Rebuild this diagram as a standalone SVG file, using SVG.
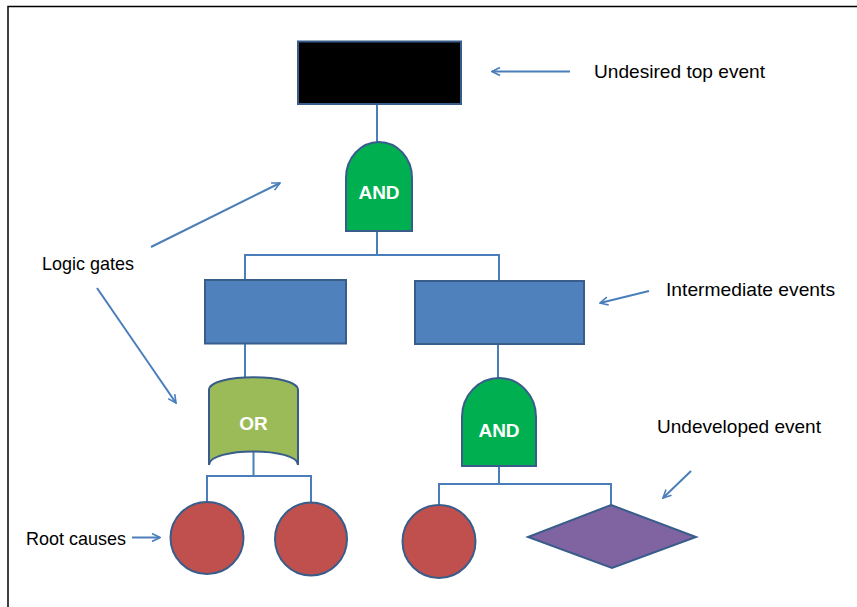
<svg xmlns="http://www.w3.org/2000/svg" width="857" height="607" viewBox="0 0 857 607">
  <style>
    .shape { stroke: #385d8a; stroke-width: 2; }
    .wire { fill: none; stroke: #4a7ebb; stroke-width: 2; }
    .callout { fill: none; stroke: #4a7ebb; stroke-width: 2; marker-end: url(#open-arrow); }
    .gate-label { font-family: "Liberation Sans", Arial, sans-serif; font-weight: bold; font-size: 19px; fill: #ffffff; text-anchor: middle; }
    .note { font-family: "Liberation Sans", Arial, sans-serif; font-size: 19px; fill: #000000; }
  </style>
  <defs>
    <marker id="open-arrow" viewBox="0 0 10 10" refX="9" refY="5" markerWidth="5" markerHeight="5" orient="auto" markerUnits="strokeWidth">
      <path d="M1,1 L9,5 L1,9" fill="none" stroke="#4a7ebb" stroke-width="1.6"/>
    </marker>
  </defs>

  <rect x="0" y="0" width="857" height="607" fill="#ffffff"/>
  <!-- page frame -->
  <path d="M8,607 L8,6.5 L857,6.5" fill="none" stroke="#000000" stroke-width="1.5"/>

  <!-- tree connectors -->
  <g id="connectors">
    <path class="wire" d="M377,104 L377,142"/>
    <path class="wire" d="M377,231 L377,255 M245,280 L245,255 L499,255 L499,281"/>
    <path class="wire" d="M245,344 L245,378"/>
    <path class="wire" d="M498,344 L498,378"/>
    <path class="wire" d="M253.5,452 L253.5,476 M207,502 L207,476 L311,476 L311,503"/>
    <path class="wire" d="M499,466 L499,484 M439,505 L439,484 L611,484 L611,505"/>
  </g>

  <!-- callout arrows -->
  <g id="callouts">
    <line class="callout" x1="570" y1="71.5" x2="492" y2="71.5"/>
    <line class="callout" x1="649" y1="291" x2="600" y2="303"/>
    <line class="callout" x1="151" y1="247" x2="280" y2="183"/>
    <line class="callout" x1="97" y1="288" x2="176" y2="403"/>
    <line class="callout" x1="691" y1="471" x2="663" y2="498"/>
    <line class="callout" x1="132" y1="537.5" x2="160" y2="537.5"/>
  </g>

  <g id="top-event">
    <rect class="shape" x="298" y="41.5" width="163" height="62.5" fill="#000000"/>
  </g>

  <g id="and-gate-top">
    <path class="shape" fill="#00b050" d="M346,231 L346,178 A33,36 0 0 1 412,178 L412,231 Z"/>
    <text class="gate-label" x="379" y="199">AND</text>
  </g>

  <g id="intermediate-left">
    <rect class="shape" x="205" y="280" width="141" height="63.5" fill="#4f81bd"/>
  </g>

  <g id="intermediate-right">
    <rect class="shape" x="415" y="281" width="169" height="63" fill="#4f81bd"/>
  </g>

  <g id="or-gate">
    <path class="shape" fill="#9bbb59" d="M209,390 C209,373 298,373 298,390 L298,465 C298,447 209,447 209,465 Z"/>
    <text class="gate-label" x="253.5" y="429.5">OR</text>
  </g>

  <g id="and-gate-right">
    <path class="shape" fill="#00b050" d="M462,466 L462,417 A37,39 0 0 1 536,417 L536,466 Z"/>
    <text class="gate-label" x="499" y="436.5">AND</text>
  </g>

  <g id="root-cause-1">
    <ellipse class="shape" cx="207" cy="538" rx="36.5" ry="36" fill="#c0504d"/>
  </g>
  <g id="root-cause-2">
    <ellipse class="shape" cx="311" cy="539" rx="36" ry="36.5" fill="#c0504d"/>
  </g>
  <g id="root-cause-3">
    <ellipse class="shape" cx="439" cy="541.5" rx="36.5" ry="36.5" fill="#c0504d"/>
  </g>

  <g id="undeveloped-event">
    <polygon class="shape" fill="#8064a2" points="611,505 696,537 612,568 528,537"/>
  </g>

  <g id="labels">
    <text class="note" x="594" y="78" textLength="171" lengthAdjust="spacingAndGlyphs">Undesired top event</text>
    <text class="note" x="666" y="296" textLength="169" lengthAdjust="spacingAndGlyphs">Intermediate events</text>
    <text class="note" x="42" y="269.5" textLength="92" lengthAdjust="spacingAndGlyphs">Logic gates</text>
    <text class="note" x="657" y="433" textLength="164" lengthAdjust="spacingAndGlyphs">Undeveloped event</text>
    <text class="note" x="26" y="544.5" textLength="100" lengthAdjust="spacingAndGlyphs">Root causes</text>
  </g>
</svg>
